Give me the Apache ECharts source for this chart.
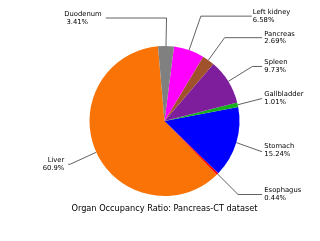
<!DOCTYPE html>
<html><head><meta charset="utf-8">
<script src="https://cdn.jsdelivr.net/npm/echarts@6/dist/echarts.min.js"></script>
<style>html,body{margin:0;padding:0;background:#fff}#c{width:320px;height:241px}</style>
</head><body><div id="c"></div>
<script>
// ---- data ----
const organs = ['Liver', 'Esophagus', 'Stomach', 'Gallbladder', 'Spleen', 'Pancreas', 'Left kidney', 'Duodenum'];
const ratios = [60.9, 0.44, 15.24, 1.01, 9.73, 2.69, 6.58, 3.41];
const titleText = 'Organ Occupancy Ratio: Pancreas-CT dataset';

// ---- style / layout ----
const colors = ['#f97306', '#ff0000', '#0000ff', '#15b01a', '#7e1e9c', '#a0522d', '#ff00ff', '#808080'];
// leader-line end points in pie-radius units (x right, y down)
const lineEnds = [[-1.283, 0.577], [1.30, 0.98], [1.30, 0.41], [1.30, -0.30], [1.30, -0.727], [1.30, -1.111], [1.163, -1.398], [-0.783, -1.373]];
// text anchor points in pie-radius units
const textPos = [[-1.336, 0.577], [1.331, 0.98], [1.331, 0.395], [1.331, -0.30], [1.331, -0.727], [1.331, -1.111], [1.177, -1.398], [-1.336, -1.373]];
const labelAlign = ['right', 'left', 'left', 'left', 'left', 'left', 'left', 'left'];
const valuePrefix = ['', '', '', '', '', '', '', ' '];
const CX = 164.5, CY = 121, R = 75, START = 95;
const FONT = 'DejaVu Sans';

const total = ratios.reduce((a, b) => a + b, 0);
const mids = [];
let acc = 0;
ratios.forEach(v => { mids.push(START + (acc + v / 2) / total * 360); acc += v; });

const chart = echarts.init(document.getElementById('c'), null, {renderer: 'canvas'});
chart.setOption({
  animation: false,
  title: {
    text: titleText, left: CX, top: 205, textAlign: 'center', padding: 0,
    textStyle: {fontFamily: FONT, fontSize: 8.2, fontWeight: 'normal', color: '#000'}
  },
  series: [{
    type: 'pie',
    center: [CX, CY],
    radius: R,
    clockwise: false,
    startAngle: START,
    avoidLabelOverlap: false,
    color: colors,
    itemStyle: {borderWidth: 0},
    emphasis: {disabled: true},
    label: {
      show: true, fontFamily: FONT, fontSize: 6.8, color: '#000', lineHeight: 7.8,
      formatter: p => p.name + '\n' + valuePrefix[p.dataIndex] + p.value + '%'
    },
    labelLine: {show: true, length: 10, length2: 10, lineStyle: {color: '#3a3a3a', width: 0.8}},
    labelLayout: function (params) {
      const i = params.dataIndex;
      const a = mids[i] * Math.PI / 180;
      const p0 = [CX + R * Math.cos(a), CY - R * Math.sin(a)];
      const end = [CX + lineEnds[i][0] * R, CY + lineEnds[i][1] * R];
      const s = Math.sin(a);
      let elbow = end;
      if (Math.abs(s) > 1e-6) {
        const d = (CY - end[1]) / s;
        const ex = CX + d * Math.cos(a);
        const sameDir = (end[0] - p0[0]) * (ex - p0[0]) >= 0 || Math.abs(ex - p0[0]) < 4;
        if (d >= R && sameDir && Math.abs(ex - p0[0]) <= Math.abs(end[0] - p0[0])) elbow = [ex, end[1]];
      }
      return {
        x: CX + textPos[i][0] * R,
        y: CY + textPos[i][1] * R,
        align: labelAlign[i],
        verticalAlign: 'middle',
        labelLinePoints: [p0, elbow, end]
      };
    },
    data: organs.map((n, i) => ({name: n, value: ratios[i]}))
  }]
});
</script>
</body></html>
